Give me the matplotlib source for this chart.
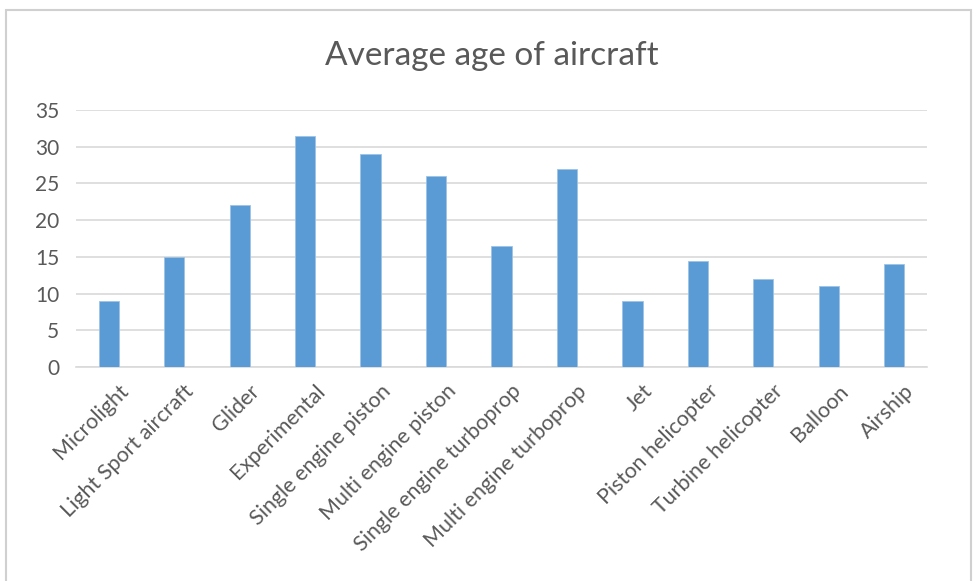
import matplotlib
matplotlib.use("Agg")
import matplotlib.pyplot as plt
import matplotlib.transforms as mtransforms
from matplotlib.patches import Rectangle

categories = ["Microlight", "Light Sport aircraft", "Glider", "Experimental",
              "Single engine piston", "Multi engine piston", "Single engine turboprop",
              "Multi engine turboprop", "Jet", "Piston helicopter", "Turbine helicopter",
              "Balloon", "Airship"]
avg_age = [9, 15, 22, 31.5, 29, 26, 16.5, 27, 9, 14.5, 12, 11, 14]
y_ticks = [0, 5, 10, 15, 20, 25, 30, 35]

plt.rcParams['font.family'] = ['Lato', 'DejaVu Sans']

fig = plt.figure(figsize=(9.74, 5.81), dpi=100)
W, H = 974, 581
ax = fig.add_axes([76 / W, 1 - 367 / H, (927 - 76) / W, (367 - 110) / H])

# chart frame
fig.patches.append(Rectangle((6 / W, -0.01), (971 - 6) / W, 1 - 10 / H + 0.01,
                             transform=fig.transFigure, fill=False,
                             edgecolor="#d0d0d0", linewidth=1.5))

x = range(len(categories))
ax.bar(x, avg_age, width=0.31, color="#5b9bd5", edgecolor="#9dc3e6", linewidth=0.6, zorder=3)

ax.set_xlim(-0.5, len(categories) - 0.5)
ax.set_ylim(0, 35)
ax.set_yticks(y_ticks)
ax.yaxis.grid(True, color="#d9d9d9", linewidth=1.2, zorder=0)
ax.set_axisbelow(True)
for s in ["top", "right", "left"]:
    ax.spines[s].set_visible(False)
ax.spines["bottom"].set_color("#d9d9d9")
ax.spines["bottom"].set_linewidth(1.2)
ax.tick_params(axis="both", length=0, colors="#595959")
ax.tick_params(axis="y", pad=12, labelsize=15)
ax.tick_params(axis="x", pad=10, labelsize=15.5)
ax.set_xticks(list(x))
ax.set_xticklabels(categories, rotation=45, ha="right", rotation_mode="anchor")

# nudge the slanted labels a little to the right
shift = mtransforms.ScaledTranslation(7 / 72, 0, fig.dpi_scale_trans)
for lbl in ax.get_xticklabels():
    lbl.set_transform(lbl.get_transform() + shift)

fig.text(492 / W, 1 - 56 / H, "Average age of aircraft", ha="center", va="center",
         fontsize=24, color="#595959")

fig.savefig("out.png", dpi=100)
